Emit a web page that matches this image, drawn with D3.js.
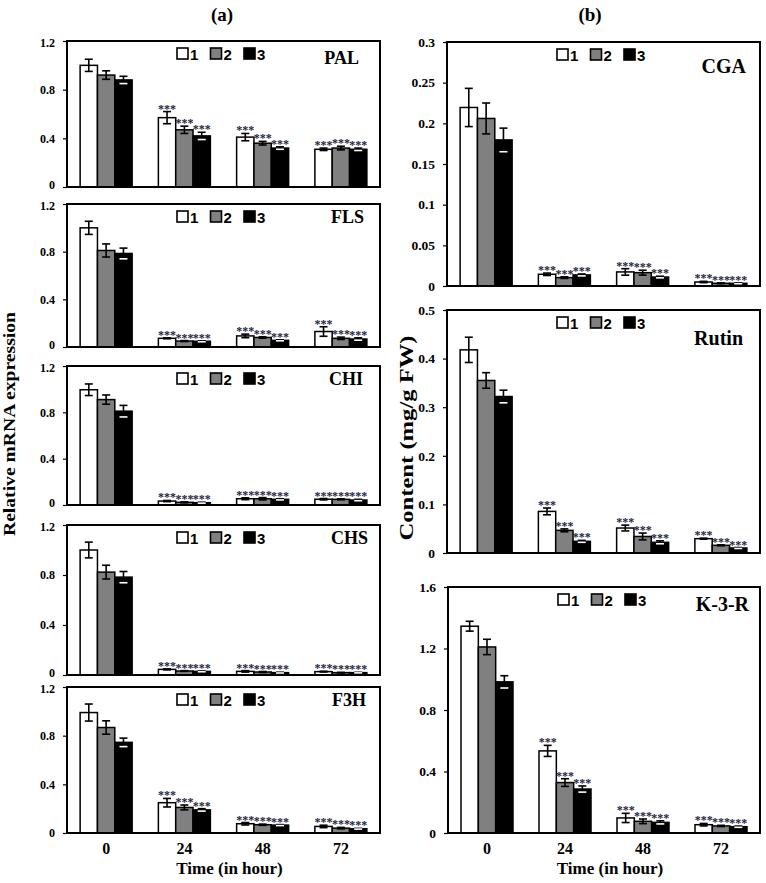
<!DOCTYPE html>
<html>
<head>
<meta charset="utf-8">
<script src="https://cdn.jsdelivr.net/npm/d3@7"></script>
<style>
  html, body { margin: 0; padding: 0; background: #fff; }
  svg { display: block; }
</style>
</head>
<body>
<svg id="chart" width="766" height="883"></svg>
<script>
// ---------------- DATA ----------------
const times = ["0", "24", "48", "72"];
const series = ["1", "2", "3"];
const sigLabels = ["", "***", "***", "***"];

// Panel (a): relative mRNA expression, [group][series]
const palMean = [[1.00, 0.92, 0.88], [0.57, 0.47, 0.42], [0.41, 0.36, 0.32], [0.31, 0.32, 0.31]];
const palErr  = [[0.05, 0.035, 0.03], [0.05, 0.03, 0.03], [0.03, 0.015, 0.01], [0.01, 0.015, 0.01]];
const flsMean = [[1.00, 0.81, 0.785], [0.073, 0.05, 0.048], [0.093, 0.08, 0.056], [0.13, 0.073, 0.067]];
const flsErr  = [[0.055, 0.055, 0.045], [0.004, 0.004, 0.004], [0.015, 0.006, 0.004], [0.04, 0.01, 0.01]];
const chiMean = [[0.995, 0.91, 0.81], [0.034, 0.023, 0.02], [0.054, 0.054, 0.049], [0.05, 0.049, 0.043]];
const chiErr  = [[0.05, 0.04, 0.05], [0.005, 0.004, 0.004], [0.008, 0.01, 0.005], [0.006, 0.004, 0.006]];
const chsMean = [[1.00, 0.823, 0.783], [0.045, 0.032, 0.029], [0.029, 0.024, 0.019], [0.027, 0.019, 0.019]];
const chsErr  = [[0.063, 0.055, 0.045], [0.004, 0.003, 0.003], [0.006, 0.004, 0.003], [0.003, 0.002, 0.002]];
const f3hMean = [[0.99, 0.867, 0.745], [0.249, 0.21, 0.19], [0.076, 0.068, 0.065], [0.054, 0.04, 0.035]];
const f3hErr  = [[0.07, 0.055, 0.035], [0.035, 0.02, 0.01], [0.01, 0.005, 0.004], [0.01, 0.006, 0.003]];

// Panel (b): content (mg/g FW)
const cgaMean = [[0.2195, 0.206, 0.1796], [0.0144, 0.0103, 0.0136], [0.0173, 0.0164, 0.011], [0.0049, 0.0033, 0.0033]];
const cgaErr  = [[0.0235, 0.019, 0.0145], [0.0015, 0.001, 0.0012], [0.004, 0.003, 0.001], [0.0008, 0.0005, 0.0005]];
const rutMean = [[0.418, 0.355, 0.322], [0.0856, 0.0466, 0.024], [0.0514, 0.034, 0.022], [0.0295, 0.0158, 0.0103]];
const rutErr  = [[0.026, 0.016, 0.013], [0.007, 0.003, 0.002], [0.006, 0.007, 0.003], [0.001, 0.001, 0.001]];
const k3rMean = [[1.345, 1.21, 0.983], [0.534, 0.328, 0.286], [0.098, 0.076, 0.069], [0.054, 0.046, 0.041]];
const k3rErr  = [[0.032, 0.05, 0.04], [0.036, 0.025, 0.02], [0.03, 0.015, 0.01], [0.008, 0.004, 0.004]];

// Tick labels
const ticksA   = [0, 0.4, 0.8, 1.2];
const ticksCGA = [0, 0.05, 0.1, 0.15, 0.2, 0.25, 0.3];
const ticksRut = [0, 0.1, 0.2, 0.3, 0.4, 0.5];
const ticksK3R = [0, 0.4, 0.8, 1.2, 1.6];

const seriesFill = ["#ffffff", "#808080", "#000000"];

// ---------------- LAYOUT ----------------
const svg = d3.select("#chart");
const serif = "'Liberation Serif', 'Times New Roman', serif";
const sans = "'Liberation Sans', Arial, sans-serif";

const panels = [
  { name: "PAL",   mean: palMean, err: palErr, ticks: ticksA,   x0: 67,  x1: 380, y0: 41,  y1: 187, showX: false, lab: 18, ldx: -21, ldy: 23, tf: 12 },
  { name: "FLS",   mean: flsMean, err: flsErr, ticks: ticksA,   x0: 67,  x1: 380, y0: 204, y1: 347, showX: false, lab: 18, ldx: -16, ldy: 19, tf: 12 },
  { name: "CHI",   mean: chiMean, err: chiErr, ticks: ticksA,   x0: 67,  x1: 380, y0: 366, y1: 505, showX: false, lab: 18, ldx: -17, ldy: 19, tf: 12 },
  { name: "CHS",   mean: chsMean, err: chsErr, ticks: ticksA,   x0: 67,  x1: 380, y0: 525, y1: 675, showX: false, lab: 18, ldx: -12, ldy: 19, tf: 12 },
  { name: "F3H",   mean: f3hMean, err: f3hErr, ticks: ticksA,   x0: 67,  x1: 380, y0: 687, y1: 833, showX: true,  lab: 18, ldx: -14, ldy: 19, tf: 12 },
  { name: "CGA",   mean: cgaMean, err: cgaErr, ticks: ticksCGA, x0: 447, x1: 760, y0: 42,  y1: 286, showX: false, lab: 20, ldx: -14, ldy: 31, tf: 13.5 },
  { name: "Rutin", mean: rutMean, err: rutErr, ticks: ticksRut, x0: 447, x1: 760, y0: 310, y1: 553, showX: false, lab: 20, ldx: -17, ldy: 35, tf: 13.5 },
  { name: "K-3-R", mean: k3rMean, err: k3rErr, ticks: ticksK3R, x0: 448, x1: 760, y0: 587, y1: 833, showX: true,  lab: 20, ldx: -11, ldy: 24, tf: 13.5 }
];

function fmt(d) { return d === 0 ? "0" : String(+d.toFixed(2)); }

panels.forEach(p => {
  const g = svg.append("g");
  const x = d3.scaleBand().domain(times).range([p.x0, p.x1]);
  const groupW = 52;
  const xs = d3.scaleBand().domain(series).range([0, groupW]);
  const yMax = p.ticks[p.ticks.length - 1];
  const y = d3.scaleLinear().domain([p.ticks[0], yMax]).range([p.y1, p.y0]);

  // Y axis
  const ya = g.append("g").attr("transform", `translate(${p.x0},0)`)
    .call(d3.axisLeft(y).tickValues(p.ticks).tickFormat(fmt).tickSize(4).tickPadding(8));
  ya.select(".domain").remove();
  ya.selectAll(".tick line").attr("stroke", "#000").attr("stroke-width", 1.2);
  ya.selectAll("text").attr("font-family", serif).attr("font-weight", "bold")
    .attr("font-size", p.tf).attr("fill", "#000");
  if (!p.showX && p.x0 < 200) {
    // keep stacked panels' 0 and top labels apart
    ya.selectAll(".tick").filter(d => d === 0).select("text").attr("dy", "0.1em");
  }
  if (p.x0 < 200) {
    ya.selectAll(".tick").filter(d => d === yMax).select("text").attr("dy", "0.42em");
  }

  // X axis labels
  if (p.showX) {
    const xa = g.append("g").attr("transform", `translate(0,${p.y1})`)
      .call(d3.axisBottom(x).tickSize(0).tickPadding(10));
    xa.select(".domain").remove();
    xa.selectAll("text").attr("font-family", serif).attr("font-weight", "bold")
      .attr("font-size", 16).attr("fill", "#000");
    g.append("text").attr("x", (p.x0 + p.x1) / 2 + 6).attr("y", 874)
      .attr("text-anchor", "middle").attr("font-family", serif).attr("font-weight", "bold")
      .attr("font-size", 17).text("Time (in hour)");
  }

  // Bars
  const rows = [];
  times.forEach((t, i) => series.forEach((s, j) => {
    rows.push({ t, s, j, i, v: p.mean[i][j], e: p.err[i][j] });
  }));
  const bx = d => x(d.t) + (x.bandwidth() - groupW) / 2 + xs(d.s);

  g.selectAll("rect.bar").data(rows).enter().append("rect")
    .attr("class", "bar")
    .attr("x", bx).attr("width", xs.bandwidth())
    .attr("y", d => y(d.v)).attr("height", d => y(0) - y(d.v))
    .attr("fill", d => seriesFill[d.j]).attr("stroke", "#000").attr("stroke-width", 1.5);

  // Error bars
  const eb = g.selectAll("g.err").data(rows).enter().append("g").attr("class", "err");
  const cx = d => bx(d) + xs.bandwidth() / 2;
  eb.append("line").attr("x1", cx).attr("x2", cx)
    .attr("y1", d => y(d.v + d.e)).attr("y2", d => y(Math.max(0, d.v - d.e)))
    .attr("stroke", "#000").attr("stroke-width", 1.6);
  eb.append("line").attr("x1", d => cx(d) - 4).attr("x2", d => cx(d) + 4)
    .attr("y1", d => y(d.v + d.e)).attr("y2", d => y(d.v + d.e))
    .attr("stroke", "#000").attr("stroke-width", 1.6);
  eb.append("line").attr("x1", d => cx(d) - 4).attr("x2", d => cx(d) + 4)
    .attr("y1", d => y(Math.max(0, d.v - d.e))).attr("y2", d => y(Math.max(0, d.v - d.e)))
    .attr("stroke", d => d.j === 2 ? "#fff" : "#000").attr("stroke-width", 1.6);

  // Significance stars
  g.selectAll("text.sig").data(rows.filter(d => sigLabels[d.i])).enter().append("text")
    .attr("class", "sig")
    .attr("x", cx).attr("y", d => y(d.v + d.e) + 1)
    .attr("text-anchor", "middle").attr("font-family", serif).attr("font-weight", "bold")
    .attr("font-size", 12).attr("fill", "#1e1e40")
    .text(d => sigLabels[d.i]);

  // Frame
  g.append("rect").attr("x", p.x0).attr("y", p.y0)
    .attr("width", p.x1 - p.x0).attr("height", p.y1 - p.y0)
    .attr("fill", "none").attr("stroke", "#000").attr("stroke-width", 2);

  // Legend
  const lg = g.append("g").attr("transform", `translate(${p.x0 + 110},${p.y0 + 7})`);
  series.forEach((s, j) => {
    const ox = j * 33.5;
    lg.append("rect").attr("x", ox).attr("y", 0).attr("width", 11).attr("height", 11)
      .attr("fill", seriesFill[j]).attr("stroke", "#000").attr("stroke-width", 1.6);
    lg.append("text").attr("x", ox + 13).attr("y", 11.5)
      .attr("font-family", sans).attr("font-weight", "bold").attr("font-size", 15)
      .text(s);
  });

  // Panel name
  g.append("text").attr("x", p.x1 + p.ldx).attr("y", p.y0 + p.ldy)
    .attr("text-anchor", "end").attr("font-family", serif).attr("font-weight", "bold")
    .attr("font-size", p.lab).text(p.name);
});

// Titles
svg.append("text").attr("x", 222).attr("y", 21).attr("text-anchor", "middle")
  .attr("font-family", serif).attr("font-weight", "bold").attr("font-size", 19).text("(a)");
svg.append("text").attr("x", 590).attr("y", 21).attr("text-anchor", "middle")
  .attr("font-family", serif).attr("font-weight", "bold").attr("font-size", 19).text("(b)");

// Y-axis titles
svg.append("text").attr("transform", "translate(15,424) rotate(-90)")
  .attr("text-anchor", "middle").attr("font-family", serif).attr("font-weight", "bold")
  .attr("font-size", 17).attr("textLength", 224).attr("lengthAdjust", "spacingAndGlyphs")
  .text("Relative mRNA expression");
svg.append("text").attr("transform", "translate(413,438) rotate(-90)")
  .attr("text-anchor", "middle").attr("font-family", serif).attr("font-weight", "bold")
  .attr("font-size", 18).attr("textLength", 205).attr("lengthAdjust", "spacingAndGlyphs")
  .text("Content (mg/g  FW)");
</script>
</body>
</html>
